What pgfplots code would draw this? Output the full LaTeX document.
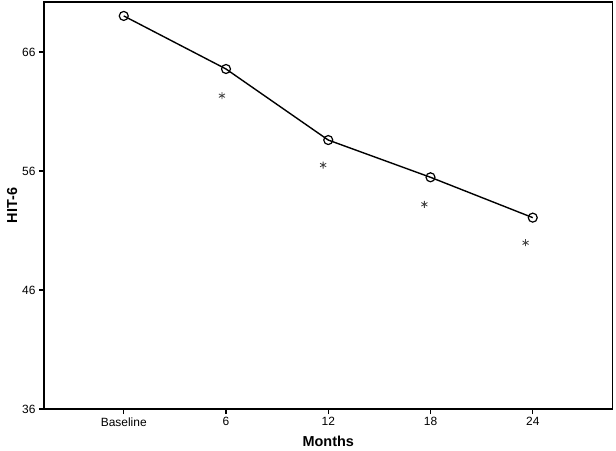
\documentclass[border=0pt]{standalone}
\usepackage{fontspec}
\setmainfont{Liberation Sans}
\usepackage{pgfplots}
\pgfplotsset{compat=1.18}
\definecolor{stargray}{HTML}{404040}

\begin{document}
\begin{tikzpicture}
\begin{axis}[
scale only axis,width=568.5bp,height=407bp,
xmin=-0.78,xmax=4.78,ymin=36,ymax=70.2,
xtick={0,1,2,3,4},xticklabels={Baseline,6,12,18,24},
ytick={36,46,56,66},
tick align=outside,xtick pos=left,ytick pos=left,
major tick length=5bp,
axis line style={line width=1.3bp},
every tick/.style={black,line width=1.2bp},
tick label style={font=\fontsize{12}{14}\selectfont},
/pgf/number format/assume math mode=true,
xlabel={\textbf{Months}},ylabel={\textbf{HIT-6}},
label style={font=\fontsize{14.5}{16}\selectfont},
xlabel style={yshift=-3bp},
ylabel style={yshift=-2bp},
clip=false]
\addplot[black,line width=1.4bp,mark=o,mark size=4.5bp,mark options={line width=1.2bp}]
coordinates {(0,69.03) (1,64.57) (2,58.6) (3,55.47) (4,52.08)};
\addplot[only marks,mark=asterisk,mark size=3.5bp,color=stargray,mark options={line width=0.8bp}]
coordinates {(0.96,62.33) (1.95,56.5) (2.94,53.2) (3.93,49.97)};
\end{axis}
\path ([shift={(-44bp,-42bp)}]current axis.south west) rectangle ([shift={(3.5bp,2bp)}]current axis.north east);
\end{tikzpicture}
\end{document}
